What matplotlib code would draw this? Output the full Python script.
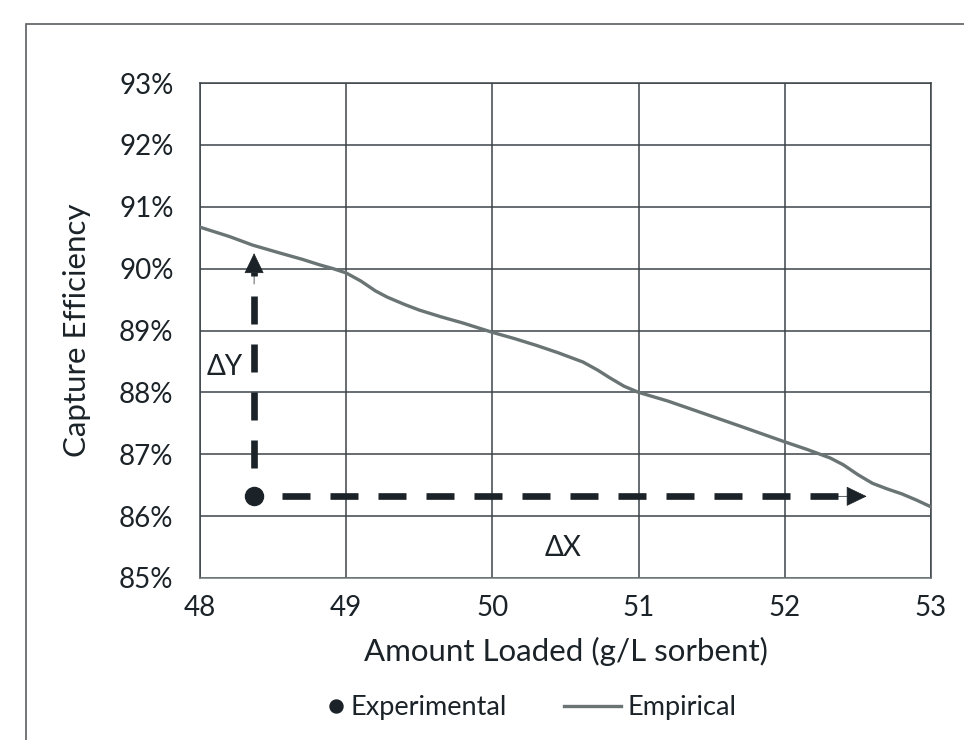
import numpy as np
import matplotlib.pyplot as plt
from matplotlib.patches import Rectangle
from matplotlib.ticker import FuncFormatter
from matplotlib.legend_handler import HandlerLine2D

plt.rcParams['font.family'] = ['Lato', 'DejaVu Sans']

# empirical curve
emp_x = [48.0, 48.2, 48.36, 48.55, 48.7, 48.82, 48.91, 49.0, 49.1, 49.2, 49.28, 49.4, 49.5, 49.65, 49.8, 50.0, 50.15,
         50.3, 50.45, 50.62, 50.72, 50.8, 50.9, 51.0, 51.1, 51.2, 51.42, 51.7, 52.0, 52.15, 52.31, 52.4, 52.5, 52.6,
         52.7, 52.8, 52.9, 53.0]
emp_y = [90.67, 90.52, 90.38, 90.25, 90.15, 90.06, 90.0, 89.93, 89.8, 89.64, 89.54, 89.42, 89.33, 89.22, 89.12, 88.97,
         88.87, 88.76, 88.64, 88.49, 88.36, 88.24, 88.1, 88.0, 87.93, 87.86, 87.68, 87.45, 87.2, 87.08, 86.94, 86.83,
         86.67, 86.53, 86.44, 86.36, 86.26, 86.15]

# experimental point and the two deltas
exp_x = [48.37]
exp_y = [86.32]
dy_top = 90.25
dx_end = 52.56

xticks = [48, 49, 50, 51, 52, 53]
yticks = [85, 86, 87, 88, 89, 90, 91, 92, 93]

txt = '#1b2328'
grid = '#3c4449'
curve = '#6a7474'


class DotHandler(HandlerLine2D):
    # put the dot at the right end of its handle box, next to the label
    def get_xdata(self, legend, xdescent, ydescent, width, height, fontsize):
        c = width - xdescent - 0.3 * fontsize
        return [c - 1, c + 1], [c]


fig = plt.figure(figsize=(9.64, 7.40), dpi=100)
ax = fig.add_axes([200/964, 1-578/740, (931-200)/964, (578-83)/740])

ax.plot(emp_x, emp_y, color=curve, lw=2.4, label='Empirical', zorder=3)

# dashed delta arrows
dash = dict(color=txt, lw=4.8, dashes=(4.2, 3.0), solid_capstyle='butt', dash_capstyle='butt', zorder=4)
ax.plot([exp_x[0], exp_x[0]], [86.78, 89.95], **dash)
ax.plot([48.56, dx_end - 0.13], [exp_y[0], exp_y[0]], **dash)
head = dict(arrowstyle='-|>,head_length=1.35,head_width=0.65', color=txt, lw=0.5, shrinkA=0, shrinkB=0)
ax.annotate('', xy=(exp_x[0], dy_top), xytext=(exp_x[0], dy_top - 0.5), arrowprops=head, zorder=4)
ax.annotate('', xy=(dx_end, exp_y[0]), xytext=(dx_end - 0.3, exp_y[0]), arrowprops=head, zorder=4)

ax.plot(exp_x, exp_y, 'o', color=txt, ms=13, label='Experimental', zorder=5)

ax.text(48.17, 88.41, 'ΔY', fontsize=20, color=txt, ha='center', va='center')
ax.text(50.48, 85.48, 'ΔX', fontsize=20, color=txt, ha='center', va='center')

ax.set_xlim(48, 53)
ax.set_ylim(85, 93)
ax.set_xticks(xticks)
ax.set_yticks(yticks)
ax.yaxis.set_major_formatter(FuncFormatter(lambda v, p: '{:.0f}%'.format(v)))
ax.tick_params(length=0, labelsize=20, colors=txt)
ax.tick_params(axis='y', pad=19)
ax.tick_params(axis='x', pad=12)
ax.grid(True, color=grid, lw=1.1)
for s in ax.spines.values():
    s.set_color(grid)
    s.set_linewidth(1.1)
ax.spines['bottom'].set_color('#70797d')

ax.set_xlabel('Amount Loaded (g/L sorbent)', fontsize=22.5, color=txt, labelpad=12)
ax.set_ylabel('Capture Efficiency', fontsize=22.5, color=txt, labelpad=20)

h, l = ax.get_legend_handles_labels()
fig.legend(h[::-1], l[::-1], loc='center', bbox_to_anchor=(512/964, 1-708/740), ncol=2,
           frameon=False, fontsize=19.5, handlelength=2.1, handletextpad=0.25, columnspacing=2.1,
           markerscale=0.72, labelcolor=txt, handler_map={h[1]: DotHandler()})

# outer frame, running off the right and bottom edges
fig.patches.append(Rectangle((26/964, -0.1), 1.2, 1 - 24/740 + 0.1, transform=fig.transFigure,
                             fill=False, ec='#5a5f62', lw=1.2))

fig.savefig('out.png', dpi=100)
